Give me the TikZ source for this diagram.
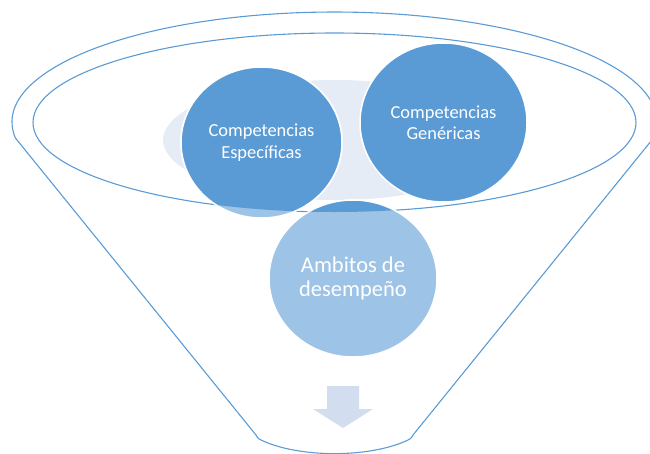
\documentclass[tikz,border=0pt]{standalone}
\usepackage{fontspec}
\newfontfamily\calibri{Carlito}
\usepackage{tikz}
\usetikzlibrary{shapes.geometric}
\definecolor{funnelblue}{HTML}{5B9BD5}
\definecolor{lightblue}{HTML}{9DC3E6}
\definecolor{paleblue}{HTML}{E5ECF6}
\definecolor{arrowblue}{HTML}{D2DEEF}

\begin{document}
\begin{tikzpicture}[x=1pt,y=-1pt,
	rim/.style={draw=funnelblue,line width=1.1pt},
	bubble/.style={ellipse,draw=white,line width=1.5pt,inner sep=0pt},
	dark/.style={fill=funnelblue},
	light/.style={fill=lightblue},
	bubbletext/.style={text=white,align=center,font=\calibri\fontsize{18.4}{21.5}\selectfont}]
	\useasboundingbox (0,0) rectangle (650,453);
	\clip (0,0) rectangle (650,453);
	\fill[paleblue] (335,140) ellipse [x radius=172pt,y radius=60pt];
	\coordinate (rimL) at (15.4,138);
	\coordinate (rimR) at (653.6,138);
	\draw[rim] (rimL) arc[start angle=188.36,end angle=-8.36,x radius=322.5pt,y radius=110pt]
		-- (413,435) .. controls (411,438.5) .. (407,440.5)
		.. controls (369,458) and (300,458) .. (262,440.5)
		.. controls (258,438.5) .. (256,435) -- cycle;
	\draw[rim] (334.5,122.5) ellipse [x radius=301.5pt,y radius=89.5pt];
	\node[bubble,light,minimum width=168pt,minimum height=157pt] (ambitos) at (353,278.5) {};
	\node[bubble,light,minimum width=161pt,minimum height=151pt] (especificas) at (261.5,142.5) {};
	\node[bubble,dark,minimum width=167pt,minimum height=159pt] (genericas) at (443.5,122.5) {};
	\begin{scope}
		\clip (334.5,122.5) ellipse [x radius=301.5pt,y radius=89.5pt];
		\filldraw[dark,draw=white,line width=1.5pt] (ambitos.center) ellipse [x radius=84pt,y radius=78.5pt];
		\filldraw[dark,draw=white,line width=1.5pt] (especificas.center) ellipse [x radius=80.5pt,y radius=75.5pt];
	\end{scope}
	\node[bubbletext] (especificasT) at (especificas.center) {Competencias\\Específicas};
	\node[bubbletext] (genericasT) at (genericas.center) {Competencias\\Genéricas};
	\node[bubbletext,font=\calibri\fontsize{22.5}{24}\selectfont] (ambitosT) at (ambitos.center) {Ambitos de\\desempeño};
	\fill[arrowblue] (327,386) -- (359,386) -- (359,409) -- (373,409) -- (343,428) -- (313,409) -- (327,409) -- cycle;
\end{tikzpicture}
\end{document}
